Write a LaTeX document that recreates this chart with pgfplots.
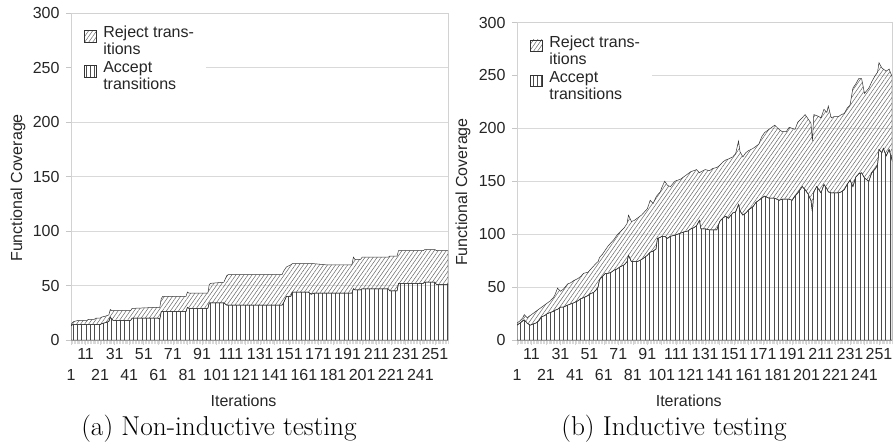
\documentclass[border=0pt]{standalone}
\usepackage{fontspec}
\newfontfamily\arial{Liberation Sans}
\usepackage{pgfplots}
\usepackage{pgfplotstable}
\pgfplotsset{compat=1.18}
\usetikzlibrary{patterns.meta}

\pgfplotstableread{
it acc tot
1 13 14
2 14 16
3 14 17
6 14 18
12 14 18
13 14 19
17 14 19
18 14 20
21 14 20
22 15 21
25 16 22
27 17 23
28 21 28
29 19 27
30 18 27
42 18 27
43 20 29
61 20 30
62 19 30
63 26 38
64 26 40
80 26 40
81 30 44
82 29 43
95 29 43
96 34 51
97 34 52
106 34 53
107 33 56
108 32 59
109 32 60
146 32 60
147 34 63
149 40 67
152 40 69
153 44 70
164 44 70
166 42 70
168 43 70
176 43 69
194 43 69
195 47 76
196 46 74
200 46 74
201 47 76
219 47 76
220 45 77
225 45 77
226 52 82
243 52 82
244 53 83
251 53 83
252 51 82
260 51 82
}\nonind

\pgfplotstableread{
it acc tot
1 14 16
3 16 18
5 18 21
6 19 24
8 16 21
10 14 23
12 15 25
14 16 27
16 18 29
18 22 31
20 23 33
22 25 35
24 26 37
26 27 40
27 28 42
29 29 49
31 31 46
33 31 48
36 33 53
38 34 54
40 35 56
43 37 58
45 39 60
47 40 63
50 42 64
52 44 67
54 45 70
56 48 73
57 50 74
58 57 78
60 60 81
62 63 85
64 63 89
66 64 92
68 66 95
70 67 99
72 69 102
75 71 106
77 74 110
78 80 118
80 74 112
82 74 113
84 74 115
87 76 118
89 78 121
91 80 124
93 83 132
95 84 129
97 86 135
98 96 137
100 97 140
101 98 144
103 98 150
105 96 146
107 98 145
110 99 150
112 100 151
114 101 152
116 102 154
119 103 157
121 105 159
123 106 160
125 108 161
127 113 158
128 105 159
131 105 161
134 104 160
136 104 162
139 104 163
141 112 165
143 115 168
145 117 170
147 115 171
150 120 173
152 121 176
154 128 188
155 122 178
157 118 173
159 120 177
161 123 179
164 126 181
166 130 183
168 132 185
170 134 192
172 136 196
175 134 199
177 134 201
179 134 203
182 132 199
184 133 197
187 133 197
189 133 201
191 132 200
193 136 199
195 139 206
198 145 210
200 142 213
202 138 209
204 132 205
205 121 188
206 140 213
208 145 212
211 139 210
213 147 218
215 143 215
216 140 221
218 139 210
220 139 211
223 139 211
225 140 213
227 142 214
229 147 219
231 151 222
233 145 238
235 154 242
237 157 247
239 158 247
241 153 233
244 150 238
246 158 244
248 161 249
250 165 253
251 180 262
253 177 257
254 181 256
256 174 254
258 180 256
260 170 249
}\ind

\pgfplotsset{
  covstyle/.style={
    scale only axis,
    xmin=1, xmax=260, ymin=0, ymax=300,
    ytick={0,50,...,300},
    xtick={1,21,...,241},
    extra x ticks={11,31,...,251},
    extra x tick style={xticklabel style={yshift=21pt}},
    minor xtick={1,...,260},
    xtick pos=bottom, ytick pos=left,
    tick align=outside,
    major tick length=5pt, minor tick length=4pt,
    every tick/.style={gray!45, line width=0.6pt},
    xtick style={gray!35},
    minor x tick style={gray!30, line width=0.6pt},
    ymajorgrids, grid style={gray!30, line width=0.8pt},
    axis line style={gray!35, line width=0.8pt},
    ticklabel style={font=\arial\fontsize{16}{18}\selectfont, text=black!85},
    /pgf/number format/assume math mode=true,
    xticklabel style={anchor=center, yshift=-30pt},
    yticklabel style={anchor=east, xshift=-3pt},
    label style={font=\arial\fontsize{16}{18}\selectfont, text=black!85},
    xlabel={Iterations}, ylabel={Functional Coverage},
    stack plots=y,
    reverse legend,
    legend cell align=left,
    legend style={draw=none, fill=white, at={(axis description cs:0,1)}, anchor=north west,
      xshift=1.2pt, yshift=-1pt,
      font=\arial\fontsize{16}{17}\selectfont, text=black!85,
      nodes={align=left, inner sep=0pt},
      inner xsep=12pt, inner ysep=12pt, row sep=5.6pt, column sep=7pt},
    legend image code/.code={\draw[#1, draw=black!80, line width=0.4pt] (0pt,-0.5pt) rectangle (11.5pt,11pt);},
  },
  accstyle/.style={draw=black!80, line width=0.5pt, pattern={Lines[angle=90, distance=4.3pt, line width=0.7pt]}, pattern color=black!70},
  rejstyle/.style={draw=black!80, line width=0.5pt, pattern={Lines[angle=55, distance=3.3pt, line width=0.5pt]}, pattern color=black!60},
}

\begin{document}
\begin{tikzpicture}
\useasboundingbox (0pt,0pt) rectangle (893pt,445pt);
\begin{axis}[covstyle, at={(71pt,105pt)}, anchor=south west, width=377pt, height=327pt,
  xlabel style={at={(axis description cs:0.4576,-0.186)}, anchor=center},
  ylabel style={at={(axis description cs:-0.1406,0.465)}, anchor=center}]
\addplot[accstyle] table[x=it, y=acc] {\nonind} \closedcycle;
\addlegendentry{Accept\\transitions\hspace*{15pt}}
\addplot[rejstyle] table[x=it, y expr=\thisrow{tot}-\thisrow{acc}] {\nonind} \closedcycle;
\addlegendentry{Reject trans-\\itions}
\end{axis}
\begin{axis}[covstyle, at={(517pt,105pt)}, anchor=south west, width=375pt, height=317.5pt,
  xlabel style={at={(axis description cs:0.458,-0.192)}, anchor=center},
  ylabel style={at={(axis description cs:-0.144,0.466)}, anchor=center}]
\addplot[accstyle] table[x=it, y=acc] {\ind} \closedcycle;
\addlegendentry{Accept\\transitions\hspace*{15pt}}
\addplot[rejstyle] table[x=it, y expr=\thisrow{tot}-\thisrow{acc}] {\ind} \closedcycle;
\addlegendentry{Reject trans-\\itions}
\end{axis}
\node[font=\fontsize{27.3}{30}\selectfont] at (219pt,16pt) {(a) Non-inductive testing};
\node[font=\fontsize{27.3}{30}\selectfont] at (674pt,16pt) {(b) Inductive testing};
\end{tikzpicture}
\end{document}
